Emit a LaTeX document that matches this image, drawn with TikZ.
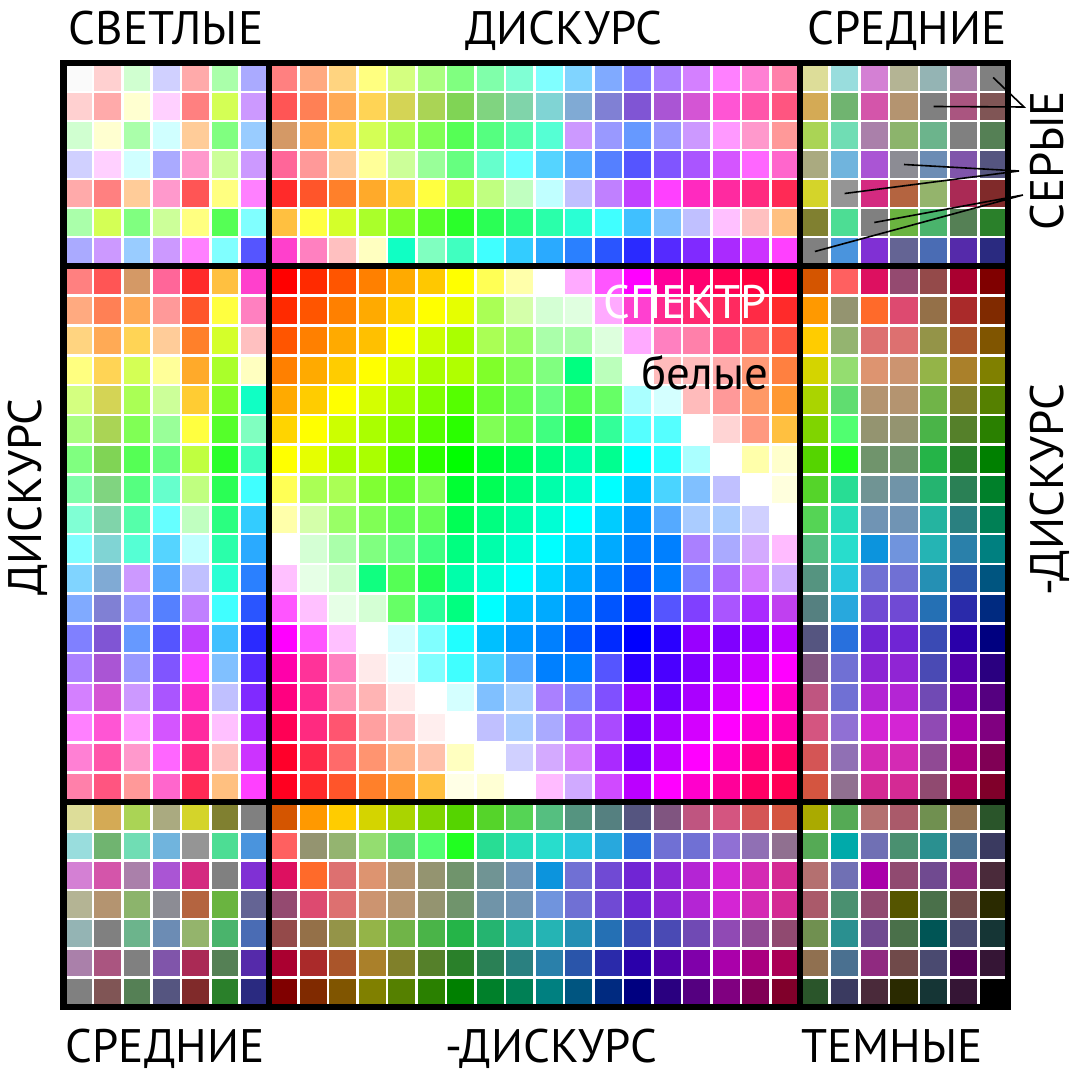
\documentclass[tikz,border=0pt]{standalone}
\usepackage{fontspec}
\setmainfont{PT Sans}

% colour rows of the blocks (row by row, left to right)
\def\lightrows{%
{FAFAFA,FFD0D0,D0FFD0,D0D0FF,FFAAAA,AAFFAA,AAAAFF},%
{FFD0D0,FFAAAA,FFFFD0,FFD0FF,FF8080,D4FF55,CC99FF},%
{D0FFD0,FFFFD0,AAFFAA,D0FFFF,FFCC99,80FF80,99CCFF},%
{D0D0FF,FFD0FF,D0FFFF,AAAAFF,FF99CC,CCFF99,CC99FF},%
{FFAAAA,FF8080,FFCC99,FF99CC,FF5555,FFFF80,FF80FF},%
{AAFFAA,D4FF55,80FF80,CCFF99,FFFF80,55FF55,80FFFF},%
{AAAAFF,CC99FF,99CCFF,CC99FF,FF80FF,80FFFF,5555FF}}

\def\discrows{%
{FF8080,FFAA80,FFD480,FFFF80,D4FF80,AAFF80,80FF80,80FFAA,80FFD4,80FFFF,80D4FF,80AAFF,8080FF,AA80FF,D480FF,FF80FF,FF80D4,FF80AA},%
{FF5555,FF8055,FFAA55,FFD455,D4D455,AAD455,80D455,80D480,80D4AA,80D4D4,80AAD4,8080D4,8055D4,AA55D4,D455D4,FF55D4,FF55AA,FF5580},%
{D49966,FFAA55,FFD455,D4FF55,AAFF55,80FF55,55FF55,55FF80,55FFAA,55FFD4,CC99FF,9999FF,6699FF,9999FF,CC99FF,FF99FF,FF99CC,FF9999},%
{FF6699,FF9999,FFCC99,FFFF99,CCFF99,99FF99,66FF80,66FFCC,66FFFF,55D4FF,55AAFF,5580FF,5555FF,8055FF,AA55FF,D455FF,FF66FF,FF66CC},%
{FF2A2A,FF552A,FF802A,FFAA2A,FFCC33,FFFF40,C0FF40,C0FF80,C0FFC0,C0FFFF,C0C0FF,C080FF,C040FF,FF40FF,FF2ABF,FF2AA0,FF2A80,FF2A55},%
{FFC040,FFFF40,D4FF2A,AAFF2A,80FF2A,55FF2A,2AFF2A,2AFF55,2AFF80,2AFFAA,2AFFD4,40FFFF,40C0FF,80C0FF,C0C0FF,FFC0FF,FFC0C0,FFC080},%
{FF40CC,FF80C0,FFC0C0,FFFFC0,10FFC4,80FFC0,40FFC0,40FFFF,33CCFF,2AAAFF,2A80FF,2A55FF,2A2AFF,552AFF,802AFF,AA2AFF,CC33FF,FF40FF}}

\def\negdiscrows{%
{D45500,FF9900,FFCC00,D4D400,AAD400,80D400,55D400,55D42A,55D455,55BF80,559480,558080,555580,805580,BF5580,D45580,D45555,D45540},%
{FF6060,949470,94B470,94DD70,60DD70,50FF70,20FF20,28DD94,28DDBB,28DDCC,28C8DD,28A8DD,2870DD,7070D4,7070D4,9070D4,9070B4,907090},%
{DD1060,FF6A2A,DD7070,DD9470,B49470,949470,70946C,709494,7094B4,0C94DD,7070D4,704AD4,7025D4,8C25D4,B425D4,D425D4,D42AB4,D42A94},%
{944A70,DD4A70,DD7070,CC9470,B49470,949470,70946C,7094A8,7094B4,7094DD,7070D4,704AD4,7025D4,9025D4,B425D4,D425D4,D42AB4,D42A94},%
{944A4A,947048,949448,94B448,70B448,4AB448,25B448,25B470,25B4A0,25B4B4,2590B4,2570B4,3A4AB4,4A4AB4,704AB4,904AB4,904A94,904A70},%
{AA0030,AA2A2A,AA552A,AA802A,80802A,55802A,2A802A,2A8055,2A8080,2A80AA,2A55AA,2A2AAA,2A00AA,5500AA,8000AA,AA00AA,AA0080,AA0055},%
{800000,802A00,805500,808000,558000,2A8000,008000,00802A,008055,008080,005580,002A80,000080,2A0080,550080,800080,800055,80002A}}

\def\midrows{%
{DDDD99,D4AA55,AAD455,AAAA80,D4D42A,808030,808080},%
{99DDDD,70B470,70DDB4,70B4DD,959595,4DDD94,4A94DD},%
{D480D4,D455AA,AA80AA,AA55D4,D42A80,808080,8030D4},%
{B4B494,B49470,8CB46C,8C8C94,B46440,6AB440,646494},%
{94B4B4,808080,6CB48C,6C8CB4,94B46C,4AB46C,4A6CB4},%
{AA80AA,AA5580,808080,8055AA,AA2A55,558055,552AAA},%
{808080,805555,558055,555580,802A2A,2A802A,2A2A80}}

\def\darkrows{%
{AAAA00,55AA55,B47070,AA5A6A,709050,907050,2A552A},%
{55AA55,00AAAA,7070B4,4A9070,2A9090,4A7090,3A3A60},%
{B47070,7070B4,AA00AA,904A70,704A90,902A80,4A2A3A},%
{AA5A6A,4A9070,904A70,555500,4A704A,704A4A,2A2A00},%
{709050,2A9090,704A90,4A704A,005555,4A4A70,153535},%
{907050,4A7090,902A80,704A4A,4A4A70,550055,351535},%
{2A552A,3A3A60,4A2A3A,2A2A00,153535,351535,000000}}

\def\spectrumrows{%
{FF0000,FF2A00,FF5500,FF8000,FFAA00,FFC800,FFFF00,FFFF55,FFFFAA,FFFFFF,FFAAFF,FF55FF,FF00FF,FF0099,FF0070,FF0055,FF0040,FF0030},%
{FF2A00,FF5500,FF8000,FFAA00,FFD400,FFFF00,E6FF00,AAFF55,D4FFAA,D4FFD4,E0FFE0,FFAAFF,FF40D0,FF2A90,FF2A70,FF2A60,FF2A45,FF2A2A},%
{FF5500,FF8000,FFAA00,FFC000,FFFF00,CCFF00,AAFF00,AAFF55,99FF66,AAFFAA,AAFFAA,DDFFDD,FFAAFF,FF80C0,FF80AA,FF5580,FF6666,FF5540},%
{FF8000,FFAA00,FFCC00,FFFF00,D4FF00,AAFF00,B0FF00,80FF2A,80FF55,80FF80,00FF80,BBFFBB,FFFFFF,FFBBBB,FFBBBB,FFAAAA,FF9977,FF8040},%
{FFAA00,FFCC00,FFFF00,D4FF00,AAFF00,80FF00,55FF00,66FF33,66FF55,66FF80,55FF55,66FF66,AAFFFF,D4FFFF,FFBBBB,FF9999,FF9966,FF9933},%
{FFD400,FFFF00,CCFF00,AAFF00,80FF00,55FF00,2AFF00,80FF55,66FF55,40FF80,20FF55,33FF99,55FFFF,55FFFF,FFFFFF,FFD4D4,FF9980,FFC040},%
{FFFF00,E6FF00,AAFF00,AAFF00,55FF00,2AFF00,00FF00,00FF33,00FF55,00FF80,00FFAA,00FF90,00FFFF,2AFFFF,AAFFFF,FFFFFF,FFFFAA,FFFFCC},%
{FFFF55,AAFF55,AAFF55,80FF33,66FF33,80FF55,00FF33,00FF55,00FF80,00FFAA,00FFCC,00FFFF,00C0FF,4AD4FF,80C0FF,C0C0FF,FFFFFF,FFFFDD},%
{FFFFAA,D4FFAA,99FF66,80FF55,66FF55,66FF55,00FF55,00FF80,00FFAA,00FFD4,00FFFF,00CCFF,0099FF,55AAFF,AACCFF,AACCFF,D0D0FF,FFFFFF},%
{FFFFFF,D4FFD4,AAFFAA,80FF80,6AFF80,40FF80,00FF80,00FFAA,00FFD4,00FFFF,00D4FF,00AAFF,0080FF,0080FF,AA80FF,AAAAFF,D4AAFF,FFBBFF},%
{FFC0FF,E6FFE6,CCFFCC,10FF80,55FF55,20FF55,00FFAA,00FFD4,00FFFF,00D4FF,00AAFF,0080FF,0055FF,0080FF,8080FF,AA6AFF,D480FF,CCAAFF},%
{FF55FF,FFC0FF,E6FFE6,D4FFD4,66FF66,2AFF99,00FF80,00FFFF,00C0FF,00AAFF,0080FF,0055FF,002AFF,5555FF,8040FF,AA55FF,AA2AFF,C040F0},%
{FF00FF,FF55FF,FFC0FF,FFFFFF,D4FFFF,80FFFF,20FFFF,00C0FF,0099FF,0080FF,0055FF,002AFF,0000FF,2A00FF,9900FF,8000FF,9900FF,BB00FF},%
{FF00AA,FF3399,FF80C0,FFEAEA,E6FFFF,80FFFF,40FFFF,4AD4FF,55AAFF,0080FF,0080FF,5555FF,2A00FF,4A00FF,8000FF,AA00FF,CC00FF,FF00FF},%
{FF0080,FF2A90,FF99B4,FFB4B4,FFEAEA,FFFFFF,D4FFFF,80C0FF,AAD0FF,AA80FF,8080FF,8050FF,9900FF,7000FF,AA00FF,D400FF,FF00FF,FF00C0},%
{FF0055,FF2A80,FF5570,FFA0A0,FFB8B8,FFEEEE,FFFFFF,C0C0FF,AACCFF,AAAAFF,AA66FF,AA4AFF,8000FF,AA00FF,D400FF,FF00FF,FF00CC,FF00AA},%
{FF002A,FF2A4A,FF6A6A,FF9470,FFB48C,FFC0AA,FFFFC0,FFFFFF,D0D0FF,D4AAFF,D480FF,AA2AFF,8000FF,C000FF,FF00FF,FF00CC,FF0080,FF0066},%
{FF0020,FF2A2A,FF552A,FF802A,FF9933,FFC040,FFFFE6,FFFFD4,FFFFFF,FFBBFF,D0AAFF,D04AFF,BB00FF,FF00FF,FF00CC,FF0099,FF0066,FF0055}}

% one coloured square of the current block
\newcommand\swatch[3]{%
  \definecolor{swc}{HTML}{#3}%
  \fill[swc] ({\bx+(#1-1)*\bw+\gp},{\by+(#2-1)*\bh+\gp}) rectangle ++({\bw-2*\gp},{\bh-2*\gp});}
% a block: x0, y0, pitch x, pitch y, rows
\newcommand\swatches[5]{%
  \def\bx{#1}\def\by{#2}\def\bw{#3}\def\bh{#4}%
  \foreach \rw [count=\r] in #5 {\foreach \c [count=\k] in \rw {\swatch{\k}{\r}{\c}}}}
% same, turned over the diagonal
\newcommand\swatchesT[5]{%
  \def\bx{#1}\def\by{#2}\def\bw{#3}\def\bh{#4}%
  \foreach \rw [count=\r] in #5 {\foreach \c [count=\k] in \rw {\swatch{\r}{\k}{\c}}}}

\tikzset{
  blockframe/.style={line width=6.5pt, black},
  pointer/.style={line width=1.6pt, black},
  lbl/.style={font=\fontsize{47}{50}\selectfont, anchor=base, inner sep=0pt},
}

\begin{document}
\begin{tikzpicture}[x=1pt, y=-1pt]
    \def\gp{1.3}
    \fill[white] (0,0) rectangle (1077,1075);
    \useasboundingbox (0,0) rectangle (1077,1075);

    % Draw the colour blocks
    \swatches{63.5}{63}{29.36}{29}{\lightrows}
    \swatches{269}{63}{29.5}{29}{\discrows}
    \swatchesT{800}{63}{29.71}{29}{\midrows}
    \swatchesT{63.5}{266}{29.36}{29.78}{\discrows}
    \swatches{269}{266}{29.5}{29.78}{\spectrumrows}
    \swatchesT{800}{266}{29.71}{29.78}{\negdiscrows}
    \swatches{63.5}{802}{29.36}{29.29}{\midrows}
    \swatches{269}{802}{29.5}{29.29}{\negdiscrows}
    \swatches{800}{802}{29.71}{29.29}{\darkrows}

    % Draw the frames
    \draw[blockframe] (63.5,63) rectangle (1008,1007);
    \draw[blockframe] (269,63) -- (269,1007);
    \draw[blockframe] (800,63) -- (800,1007);
    \draw[blockframe] (63.5,266) -- (1008,266);
    \draw[blockframe] (63.5,802) -- (1008,802);

    % Define coordinates for the grey squares
    \coordinate (g1) at (993.1,77.5);
    \coordinate (g2) at (933.7,106.5);
    \coordinate (g3) at (904,164.5);
    \coordinate (g4) at (844.6,193.5);
    \coordinate (g5) at (874.3,222.5);
    \coordinate (g6) at (814.9,251.5);
    \coordinate (p1) at (1024,107);
    \coordinate (p2) at (1019,171);
    \coordinate (p3) at (1023,195);

    % Draw the pointers
    \draw[pointer] (g1) -- (p1) -- (g2);
    \draw[pointer] (g3) -- (p2) -- (g4);
    \draw[pointer] (g5) -- (p3) -- (g6);

    % Labels
    \node[lbl] (light) at (166,45) {СВЕТЛЫЕ};
    \node[lbl] (disc) at (564,45) {ДИСКУРС};
    \node[lbl] (midtop) at (907,45) {СРЕДНИЕ};
    \node[lbl] (midbot) at (165,1062) {СРЕДНИЕ};
    \node[lbl] (negdisc) at (551,1062) {-ДИСКУРС};
    \node[lbl] (dark) at (892,1062) {ТЕМНЫЕ};
    \node[lbl, rotate=90] (discleft) at (41,497) {ДИСКУРС};
    \node[lbl, rotate=90] (negdiscright) at (1063,490) {-ДИСКУРС};
    \node[lbl, rotate=90] (grey) at (1063,161) {СЕРЫЕ};
    \node[lbl, white] (spectrum) at (685,319) {СПЕКТР};
    \node[lbl] (whites) at (705,390) {белые};
\end{tikzpicture}
\end{document}
